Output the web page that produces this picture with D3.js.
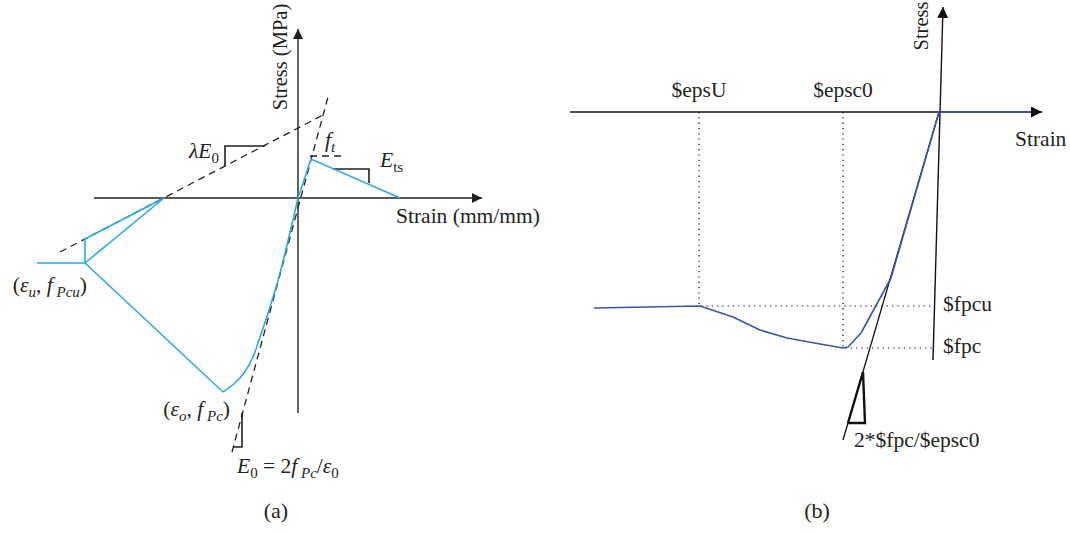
<!DOCTYPE html>
<html>
<head>
<meta charset="utf-8">
<script src="https://cdn.jsdelivr.net/npm/d3@7"></script>
<style>
  body { margin: 0; background: #fff; }
  svg { display: block; font-family: "Liberation Serif", "DejaVu Serif", serif; }
</style>
</head>
<body>
<svg id="chart"></svg>
<script>
// ---- panel (a): schematic strain / stress units, origin at 0
const aTension = [[0, 0], [1.3, 3.9], [10.2, 0]];
const aCompression = [[0, 0], [-1.8, -7.5], [-2.8, -10.9], [-3.9, -14.2], [-4.5, -15.9], [-5.4, -17.5], [-6.3, -18.5], [-7.5, -19.4]];
const aSoftening = [[-7.5, -19.4], [-21.3, -6.5], [-13.4, 0], [-21.3, -4.1], [-21.3, -6.5], [-26.1, -6.5]];
const aLambdaLine = [[-23.8, -5.4], [2.5, 8.3]];
const aE0Line = [[-6.6, -25.4], [3.0, 10.1]];
const aFtLine = [[1.2, 4.2], [4.5, 4.2]];
const aLambdaTri = [[-7.3, 3.2], [-7.3, 5.2], [-3.3, 5.2]];
const aEtsTri = [[3.5, 2.9], [7.1, 2.9], [7.1, 1.5]];
const aE0Tri = [[-6.5, -24.9], [-5.6, -24.9], [-5.6, -21.5]];
const aXAxis = [[-20.4, 0], [18.4, 0]];
const aYAxis = [[0, -21.5], [0, 16.9]];

// ---- panel (b): OpenSees-style Concrete02 sketch
const epsU = -24.0, epsc0 = -9.6, fpcu = -19.4, fpc = -23.6;
const bCurve = [[-34.5, -19.6], [-23.9, -19.4], [-20.6, -20.5], [-17.9, -21.8], [-15.2, -22.6], [-11.9, -23.2],
  [-9.6, -23.6], [-9.1, -23.5], [-7.8, -22.1], [-4.8, -16.6], [0, 0], [9.1, 0]];
const bTangent = [[-9.6, -32.8], [0, 0]];
const bTri = [[-9.1, -31.1], [-7.4, -31.1], [-7.6, -26.0], [-9.1, -31.1]];
const bXAxis = [[-36.9, 0], [10.3, 0]];
const bYAxis = [[-0.6, -24.8], [0.4, 10.5]];
const bAxisEnd = -0.7;

const W = 1070, H = 533;
const FS = 21.5, SUB = 15;
const blueA = "#29abe2", blueB = "#3a55a6", ink = "#231f20";

const svg = d3.select("#chart").attr("width", W).attr("height", H);

const defs = svg.append("defs");
function marker(id, size, color) {
  defs.append("marker")
    .attr("id", id).attr("viewBox", "0 0 10 10")
    .attr("refX", 10).attr("refY", 5)
    .attr("markerWidth", size).attr("markerHeight", size)
    .attr("markerUnits", "userSpaceOnUse").attr("orient", "auto")
    .append("path").attr("d", "M0,0L10,5L0,10Z").attr("fill", color);
}
marker("arrA", 10, ink);
marker("arrB", 11, "#111");

function mathLabel(g, x, y, parts, anchor) {
  const t = g.append("text")
    .attr("x", x).attr("y", y)
    .attr("text-anchor", anchor || "start")
    .attr("font-size", FS).attr("fill", ink)
    .style("white-space", "pre");
  let shift = 0;
  parts.forEach(p => {
    const s = p.sub ? 5 : 0;
    t.append("tspan")
      .attr("dy", s - shift)
      .attr("font-size", p.sub ? SUB : FS)
      .attr("font-style", p.it ? "italic" : "normal")
      .text(p.t);
    shift = s;
  });
  return t;
}

// ================= panel (a)
const xA = d3.scaleLinear().domain([-30, 20]).range([-2, 498]);
const yA = d3.scaleLinear().domain([-25, 17]).range([448, 28]);
const lineA = d3.line().x(d => xA(d[0])).y(d => yA(d[1]));
const ga = svg.append("g");

// axes
ga.append("path").datum(aXAxis).attr("d", lineA).attr("stroke", ink).attr("stroke-width", 1.4)
  .attr("fill", "none").attr("marker-end", "url(#arrA)");
ga.append("path").datum(aYAxis).attr("d", lineA).attr("stroke", ink).attr("stroke-width", 1.4)
  .attr("fill", "none").attr("marker-end", "url(#arrA)");

// dashed reference lines
[aLambdaLine, aE0Line, aFtLine].forEach(l => {
  ga.append("path").datum(l).attr("d", lineA).attr("stroke", ink).attr("stroke-width", 1.3)
    .attr("stroke-dasharray", "7,5").attr("fill", "none");
});

// slope triangles
[aLambdaTri, aEtsTri, aE0Tri].forEach(l => {
  ga.append("path").datum(l).attr("d", lineA).attr("stroke", ink).attr("stroke-width", 1.6).attr("fill", "none");
});

// envelope
ga.append("path").datum(aTension).attr("d", lineA).attr("stroke", blueA).attr("stroke-width", 1.6).attr("fill", "none");
ga.append("path").datum(aCompression).attr("d", lineA.curve(d3.curveCatmullRom))
  .attr("stroke", blueA).attr("stroke-width", 1.6).attr("fill", "none");
lineA.curve(d3.curveLinear);
ga.append("path").datum(aSoftening).attr("d", lineA).attr("stroke", blueA).attr("stroke-width", 1.6)
  .attr("stroke-linejoin", "round").attr("fill", "none");

// axis titles
ga.append("text").attr("transform", `translate(${xA(0) - 11},${yA(14.1)}) rotate(-90)`)
  .attr("text-anchor", "middle").attr("font-size", 20.5).attr("fill", ink).text("Stress (MPa)");
ga.append("text").attr("x", xA(9.8)).attr("y", yA(0) + 25)
  .attr("font-size", FS).attr("fill", ink).text("Strain (mm/mm)");

// annotations
mathLabel(ga, xA(aLambdaTri[0][0]) - 6, yA(aLambdaTri[0][1]) - 8,
  [{t: "\u03bbE", it: true}, {t: "0", sub: true}], "end");
mathLabel(ga, xA(aFtLine[0][0]) + 15, yA(aFtLine[0][1]) - 9,
  [{t: "f", it: true}, {t: "t", it: true, sub: true}]);
mathLabel(ga, xA(aEtsTri[1][0]) + 11, yA(aEtsTri[1][1]) - 2,
  [{t: "E", it: true}, {t: "ts", sub: true}]);
mathLabel(ga, xA(-21.3) + 2, yA(-6.5) + 29,
  [{t: "("}, {t: "\u03b5", it: true}, {t: "u", it: true, sub: true}, {t: ", "}, {t: "f", it: true},
   {t: " Pcu", it: true, sub: true}, {t: ")"}], "end");
mathLabel(ga, xA(-7.5) + 7, yA(-19.4) + 24,
  [{t: "("}, {t: "\u03b5", it: true}, {t: "o", it: true, sub: true}, {t: ", "}, {t: "f", it: true},
   {t: " Pc", it: true, sub: true}, {t: ")"}], "end");
mathLabel(ga, xA(aE0Tri[0][0]) + 4, yA(aE0Tri[0][1]) + 26,
  [{t: "E", it: true}, {t: "0", sub: true}, {t: " = 2"}, {t: "f", it: true}, {t: " Pc", it: true, sub: true},
   {t: "/"}, {t: "\u03b5", it: true}, {t: "0", sub: true}]);
ga.append("text").attr("x", xA(-2.2)).attr("y", 518).attr("text-anchor", "middle")
  .attr("font-size", 22).attr("fill", ink).text("(a)");

// ================= panel (b)
const xB = d3.scaleLinear().domain([-37, 11]).range([569, 1049]);
const yB = d3.scaleLinear().domain([-33, 11]).range([442, 2]);
const lineB = d3.line().x(d => xB(d[0])).y(d => yB(d[1]));
const gb = svg.append("g");

gb.append("path").datum(bXAxis).attr("d", lineB).attr("stroke", "#4d4d4d").attr("stroke-width", 2)
  .attr("fill", "none").attr("marker-end", "url(#arrB)");
gb.append("path").datum(bYAxis).attr("d", lineB).attr("stroke", "#111").attr("stroke-width", 1.4)
  .attr("fill", "none").attr("marker-end", "url(#arrB)");

// dotted guides
const guides = [
  [[epsU, 0], [epsU, fpcu], [bAxisEnd, fpcu]],
  [[epsc0, 0], [epsc0, fpc], [bAxisEnd, fpc]]
];
guides.forEach(l => {
  gb.append("path").datum(l).attr("d", lineB).attr("stroke", "#111").attr("stroke-width", 1.2)
    .attr("stroke-dasharray", "1.3,4").attr("fill", "none");
});

// tangent and slope triangle
gb.append("path").datum(bTangent).attr("d", lineB).attr("stroke", "#111").attr("stroke-width", 1.3).attr("fill", "none");
gb.append("path").datum(bTri).attr("d", lineB).attr("stroke", "#111").attr("stroke-width", 2.4)
  .attr("stroke-linejoin", "miter").attr("fill", "none");

// curve
gb.append("path").datum(bCurve).attr("d", lineB).attr("stroke", blueB).attr("stroke-width", 1.6)
  .attr("stroke-linejoin", "round").attr("fill", "none");

// labels
gb.append("text").attr("transform", `translate(${xB(0) - 11},${yB(8.6)}) rotate(-90)`)
  .attr("text-anchor", "middle").attr("font-size", 20.5).attr("fill", ink).text("Stress");
gb.append("text").attr("x", xB(7.6)).attr("y", yB(0) + 34).attr("font-size", FS).attr("fill", ink).text("Strain");
const topLabels = [["$epsU", epsU], ["$epsc0", epsc0]];
topLabels.forEach(([s, v]) => {
  gb.append("text").attr("x", xB(v)).attr("y", yB(0) - 15).attr("text-anchor", "middle")
    .attr("font-size", FS).attr("fill", ink).text(s);
});
const sideLabels = [["$fpcu", fpcu], ["$fpc", fpc]];
sideLabels.forEach(([s, v]) => {
  gb.append("text").attr("x", xB(0) + 4).attr("y", yB(v) + 5)
    .attr("font-size", FS).attr("fill", ink).text(s);
});
gb.append("text").attr("x", xB(bTangent[0][0]) + 11).attr("y", yB(bTangent[0][1]) + 7)
  .attr("font-size", FS).attr("fill", ink).text("2*$fpc/$epsc0");
gb.append("text").attr("x", xB(-12.2)).attr("y", 518).attr("text-anchor", "middle")
  .attr("font-size", 22).attr("fill", ink).text("(b)");
</script>
</body>
</html>
